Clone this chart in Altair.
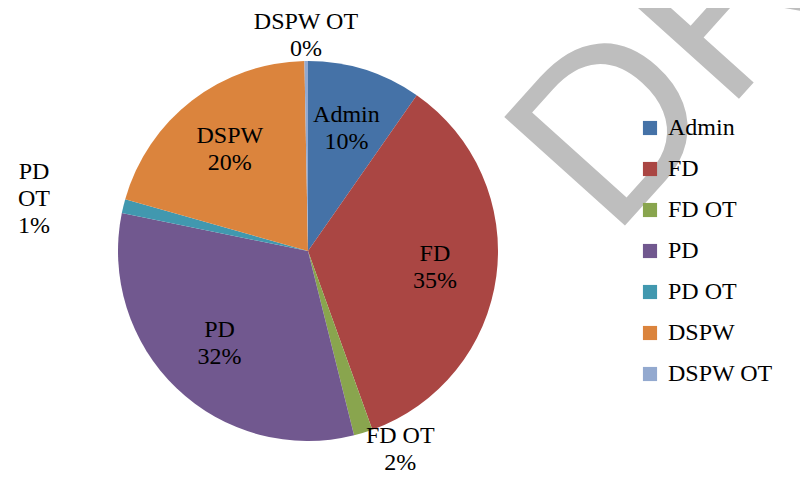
import math
import altair as alt
import pandas as pd

categories = ["Admin", "FD", "FD OT", "PD", "PD OT", "DSPW", "DSPW OT"]
values = [9.7, 34.8, 1.6, 32.1, 1.2, 20.3, 0.3]
colors = ["#4572A7", "#AA4643", "#89A54E", "#71588F", "#4198AF", "#DB843D", "#93A9CF"]
order = list(range(len(categories)))
watermark = ["DRAFT"]

df = pd.DataFrame({"cat": categories, "value": values, "idx": order})
total = sum(values)

CX, CY = 300, 243
R = 190
FONT = "Liberation Serif"
FS = 24
LH = 27

theta_scale = alt.Scale(domain=[0, total], range=[0, 2 * math.pi])
color_scale = alt.Scale(domain=categories, range=colors)

base = alt.Chart(df).transform_window(
    cum="sum(value)", sort=[alt.SortField("idx")], frame=[None, 0]
).transform_calculate(
    start="datum.cum - datum.value",
    mid="datum.cum - datum.value / 2",
    pct=f"format(datum.value / {total}, '.0%')",
).transform_calculate(
    label="datum.cat + '\\n' + datum.pct",
    label3="replace(datum.cat, ' ', '\\n') + '\\n' + datum.pct",
)

arcs = base.mark_arc(outerRadius=R).encode(
    x=alt.value(CX),
    y=alt.value(CY),
    theta=alt.Theta("start:Q", scale=theta_scale, stack=None),
    theta2="cum:Q",
    color=alt.Color(
        "cat:N",
        scale=color_scale,
        sort=categories,
        legend=alt.Legend(
            title=None,
            orient="none",
            legendX=630,
            legendY=108,
            symbolType="square",
            symbolSize=200,
            symbolStrokeWidth=0,
            labelFont=FONT,
            labelFontSize=FS,
            labelColor="black",
            labelOffset=6,
            rowPadding=17,
            padding=0,
        ),
    ),
)


def text_layer(cats, radius, field="label", dx=0, dy=-LH / 2):
    return base.transform_filter(
        alt.FieldOneOfPredicate(field="cat", oneOf=cats)
    ).mark_text(
        font=FONT, fontSize=FS, lineBreak="\n", lineHeight=LH, color="black",
        align="center", baseline="middle", dx=dx, dy=dy,
    ).encode(
        x=alt.value(CX),
        y=alt.value(CY),
        theta=alt.Theta("mid:Q", scale=theta_scale, stack=None),
        radius=alt.value(radius),
        text=alt.Text(f"{field}:N"),
    )


inner = text_layer(["Admin", "FD", "PD", "DSPW"], 128)
top_lbl = text_layer(["DSPW OT"], 216)
fdot_lbl = text_layer(["FD OT"], 207, dx=32)
pdot_lbl = text_layer(["PD OT"], 282, field="label3", dy=-12)

wm = alt.Chart(pd.DataFrame({"t": watermark})).mark_text(
    font="Liberation Sans", fontSize=236, angle=312, align="left",
    baseline="alphabetic", color="#BEBEBE",
).encode(x=alt.value(604), y=alt.value(232), text="t:N")

chart = alt.layer(arcs, inner, top_lbl, fdot_lbl, pdot_lbl, wm).properties(
    width=792, height=467, padding=0, background="white",
    autosize=alt.AutoSizeParams(type="none"),
).configure_view(stroke=None)

chart.save("out.html", embed_options={"renderer": "svg", "actions": False})
